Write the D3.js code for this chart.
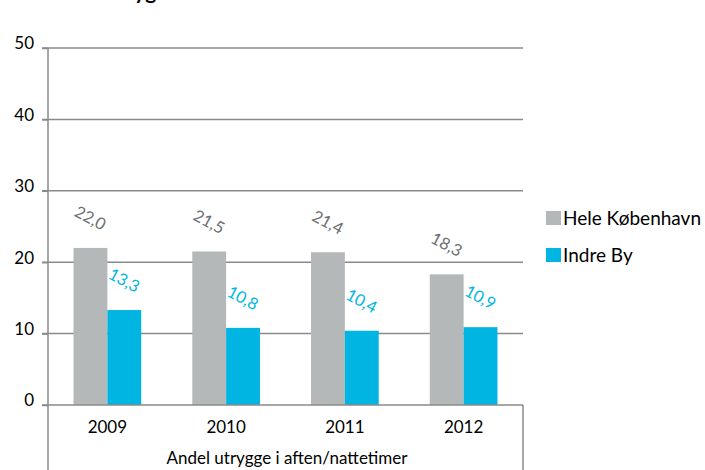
<!DOCTYPE html>
<html><head><meta charset="utf-8">
<script src="https://cdn.jsdelivr.net/npm/d3@7"></script>
<style>body{margin:0;background:#fff}svg{display:block;font-family:Lato,"Open Sans",sans-serif}</style>
</head><body>
<svg id="c" width="705" height="470"></svg>
<script>
const categories = ["2009","2010","2011","2012"];
const seriesNames = ["Hele København","Indre By"];
const heleKbh = [22.0, 21.5, 21.4, 18.3];
const indreBy = [13.3, 10.8, 10.4, 10.9];
const yTicks = [0,10,20,30,40,50];
const colors = ["#b5b8b9","#00b5e2"];
const labelColors = ["#6d6e71","#00b5e2"];
const xTitle = "Andel utrygge i aften/nattetimer";

(function(){
const svg = d3.select("#c");
const pL = 48, pR = 523, pT = 48, pB = 405;
const y = d3.scaleLinear().domain([0,50]).range([pB, pT]);
const x = d3.scaleBand().domain(categories).range([pL, pR]).paddingInner(0.43).paddingOuter(0.215);
const x1 = d3.scaleBand().domain([0,1]).range([0, x.bandwidth()]);

// partial title (cut off at top)
svg.append("text").attr("x", 116).attr("y", -1).attr("font-size", 21).attr("font-weight", "bold").attr("fill", "#000").text("Tryghed");

// gridlines
svg.append("g").selectAll("line").data(yTicks.filter(d=>d>0)).join("line")
  .attr("x1", pL-6).attr("x2", pR).attr("y1", d=>y(d)).attr("y2", d=>y(d))
  .attr("stroke", "#8a8a8a").attr("stroke-width", 1.5);

// y axis
const ya = svg.append("g").attr("transform", `translate(${pL},0)`)
  .call(d3.axisLeft(y).tickValues(yTicks).tickSize(6).tickPadding(8));
ya.select(".domain").remove();
ya.selectAll(".tick line").attr("stroke", "#8a8a8a").attr("stroke-width", 1.5);
ya.selectAll(".tick text").attr("font-size", 17).attr("fill", "#000").attr("font-family", "Lato,sans-serif").attr("dy", "0.05em");

// bars
const series = [heleKbh, indreBy];
series.forEach((vals, si) => {
  svg.append("g").selectAll("rect").data(vals).join("rect")
    .attr("x", (d,i)=>x(categories[i]) + x1(si))
    .attr("width", x1.bandwidth())
    .attr("y", d=>y(d)).attr("height", d=>pB - y(d))
    .attr("fill", colors[si]);
  svg.append("g").selectAll("text").data(vals).join("text")
    .attr("transform", (d,i)=>`translate(${x(categories[i]) + x1(si) + x1.bandwidth()/2},${y(d)-30}) rotate(28)`)
    .attr("text-anchor", "middle").attr("dominant-baseline", "central")
    .attr("font-size", 16.5).attr("fill", labelColors[si])
    .text(d=>d.toFixed(1).replace(".", ","));
});

// left axis line (full height) and bottom table box
svg.append("line").attr("x1", pL).attr("x2", pL).attr("y1", pT).attr("y2", 470).attr("stroke", "#8a8a8a").attr("stroke-width", 1.5);
svg.append("line").attr("x1", pL-6).attr("x2", pR).attr("y1", pB).attr("y2", pB).attr("stroke", "#8a8a8a").attr("stroke-width", 1.5);
svg.append("line").attr("x1", pR).attr("x2", pR).attr("y1", pB).attr("y2", 470).attr("stroke", "#8a8a8a").attr("stroke-width", 1.5);

// x labels
svg.append("g").selectAll("text").data(categories).join("text")
  .attr("x", d=>x(d)+x.bandwidth()/2).attr("y", 433)
  .attr("text-anchor", "middle").attr("font-size", 17).attr("fill", "#000").text(d=>d);
svg.append("text").attr("x", 287).attr("y", 464).attr("text-anchor", "middle")
  .attr("font-size", 17).attr("fill", "#000").text(xTitle);

// legend
const lg = svg.append("g");
seriesNames.forEach((n,i)=>{
  const yy = 211 + i*37;
  lg.append("rect").attr("x", 546).attr("y", yy).attr("width", 15).attr("height", 14).attr("fill", colors[i]);
  lg.append("text").attr("x", 563).attr("y", yy+14).attr("font-size", 19).attr("fill", "#000").text(n);
});
})();
</script>
</body></html>
